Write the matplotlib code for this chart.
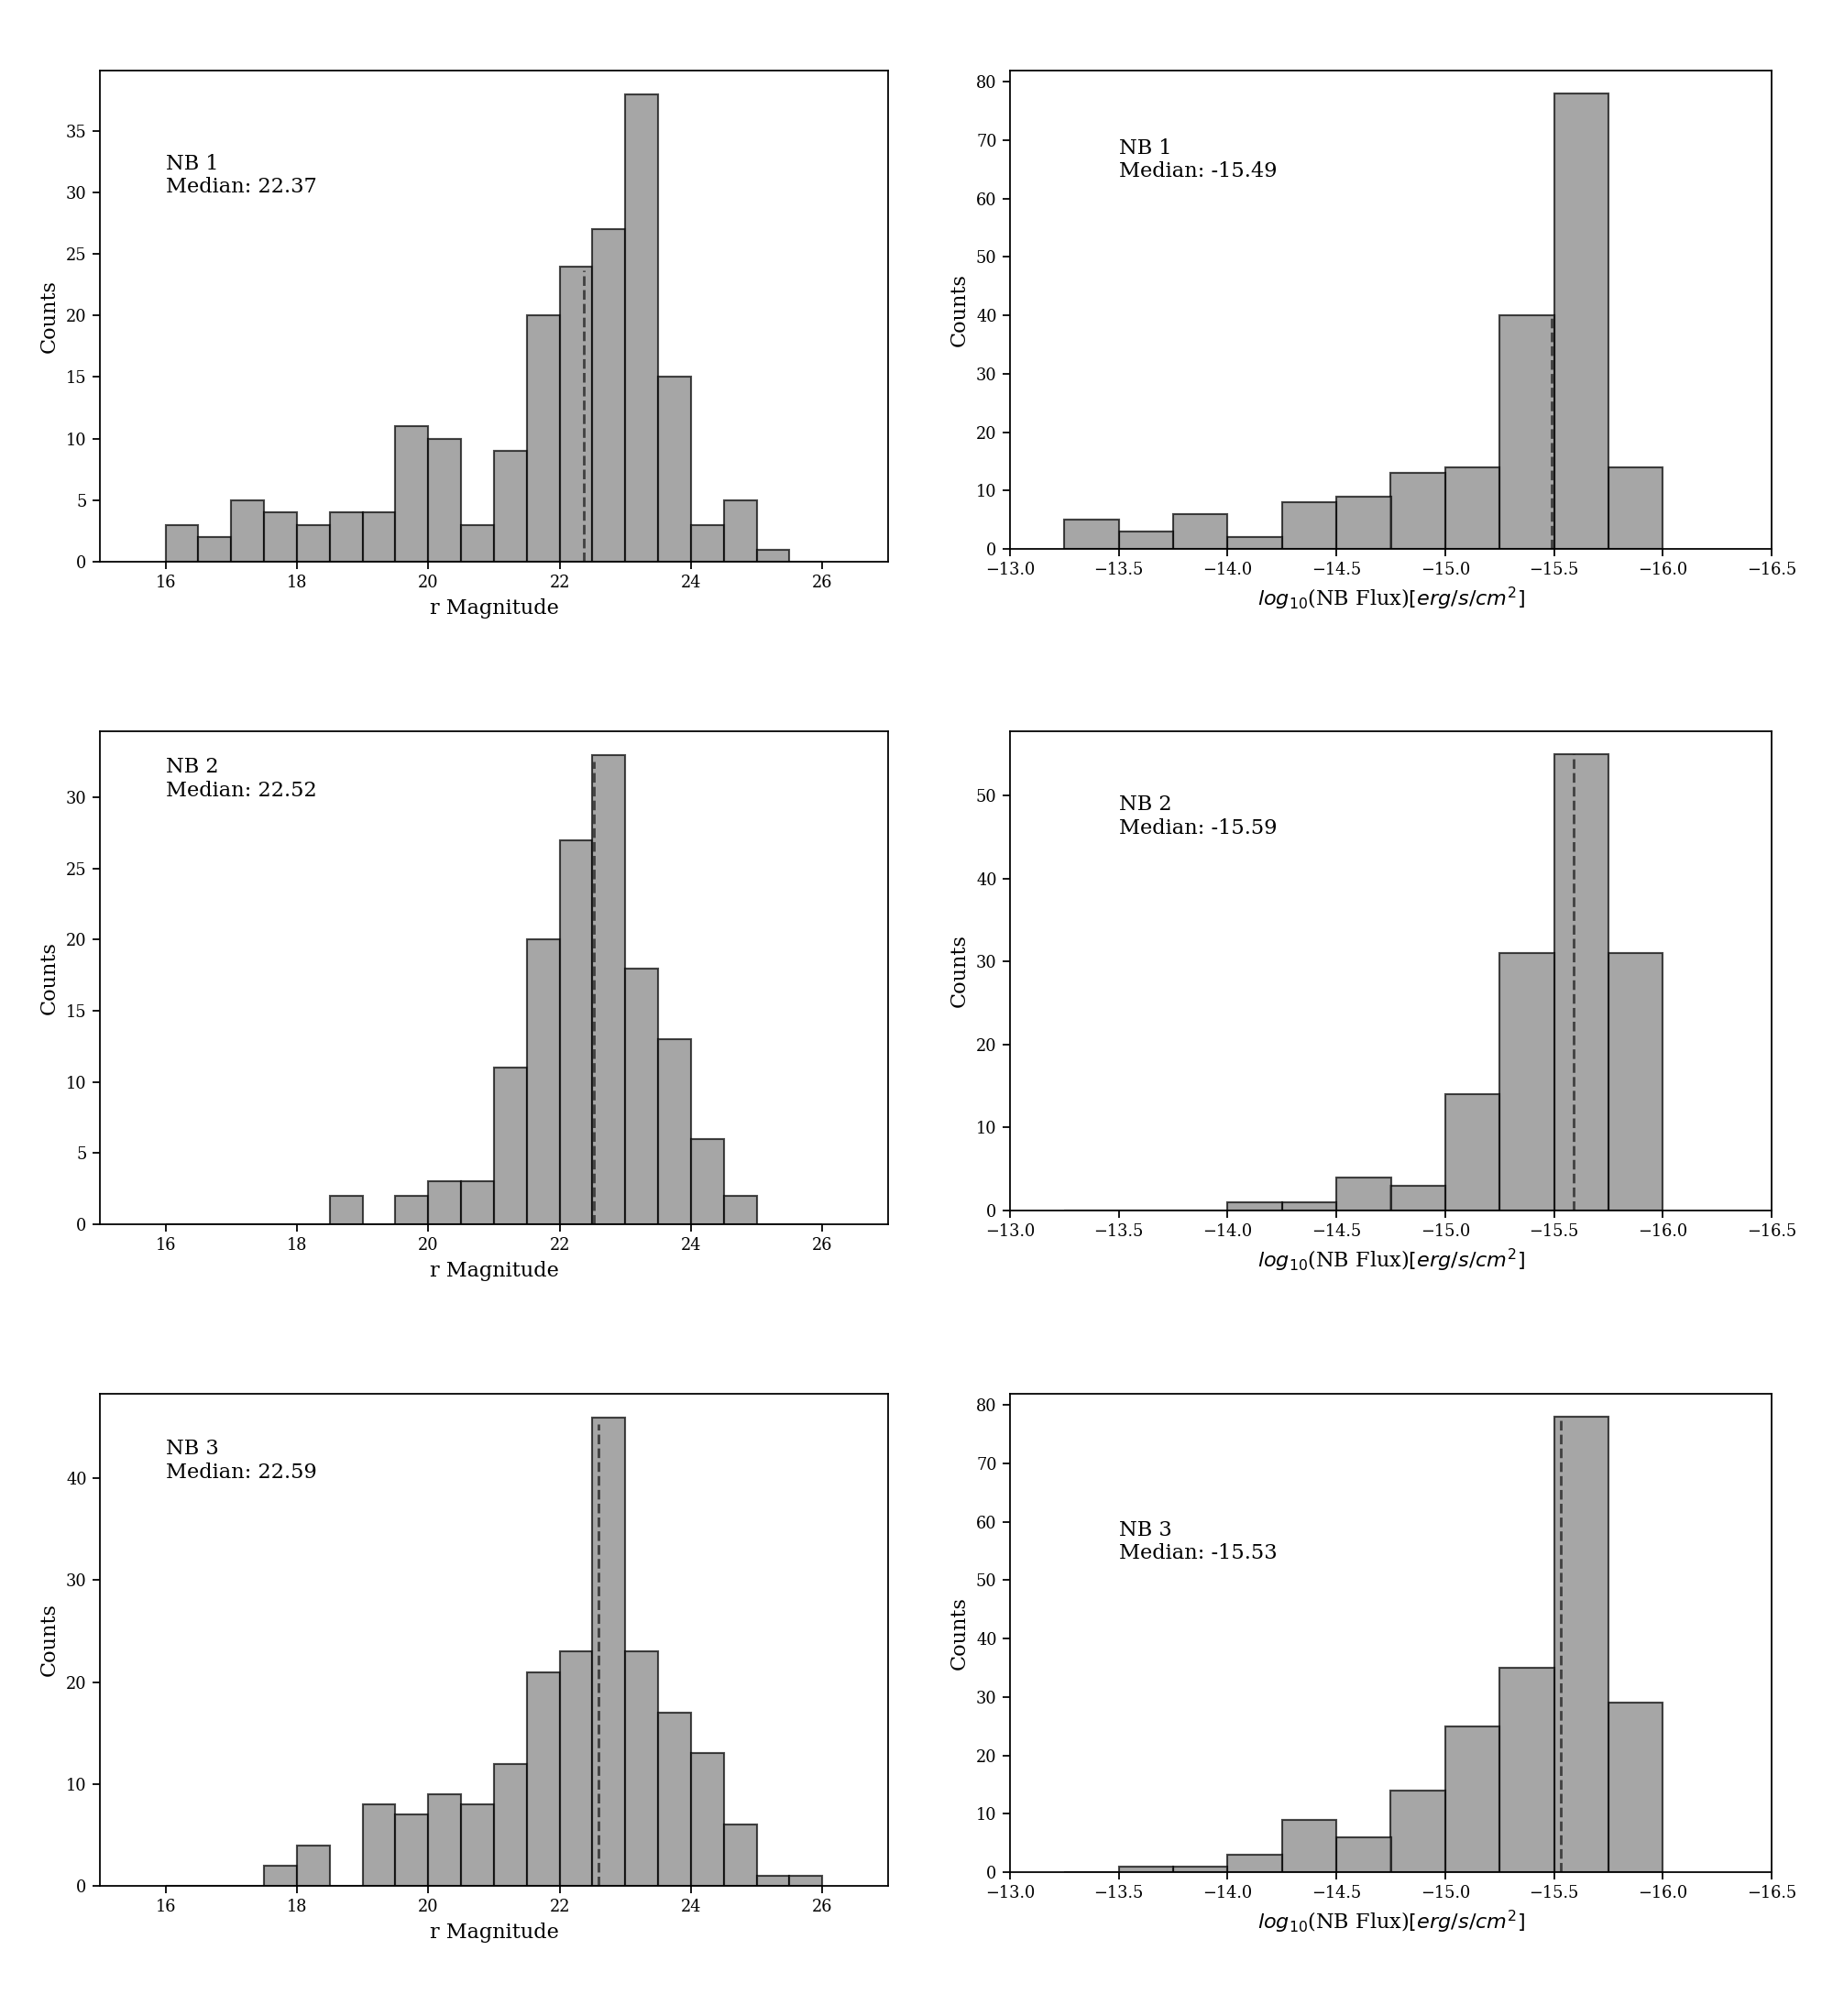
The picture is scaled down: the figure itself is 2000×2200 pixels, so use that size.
import matplotlib
matplotlib.use("Agg")
import matplotlib.pyplot as plt
import numpy as np

plt.rcParams['font.family'] = 'serif'
plt.rcParams['font.serif'] = ['DejaVu Serif']
plt.rcParams['axes.linewidth'] = 1.0
plt.rcParams['xtick.major.size'] = 4.6
plt.rcParams['ytick.major.size'] = 4.6
plt.rcParams['xtick.major.width'] = 1.0
plt.rcParams['ytick.major.width'] = 1.0

# r magnitude histograms (bins 16..26, width 0.5)
mag_edges = np.arange(16.0, 26.01, 0.5)
mag_counts_nb1 = [3, 2, 5, 4, 3, 4, 4, 11, 10, 3, 9, 20, 24, 27, 38, 15, 3, 5, 1, 0]
mag_counts_nb2 = [0, 0, 0, 0, 0, 2, 0, 2, 3, 3, 11, 20, 27, 33, 18, 13, 6, 2, 0, 0]
mag_counts_nb3 = [0, 0, 0, 2, 4, 0, 8, 7, 9, 8, 12, 21, 23, 46, 23, 17, 13, 6, 1, 1]
mag_medians = [22.37, 22.52, 22.59]

# log10 NB flux histograms (bins -13.25 .. -16.0, width 0.25)
flux_edges = np.arange(-13.25, -16.01, -0.25)
flux_counts_nb1 = [5, 3, 6, 2, 8, 9, 13, 14, 40, 78, 14]
flux_counts_nb2 = [0, 0, 0, 1, 1, 4, 3, 14, 31, 55, 31]
flux_counts_nb3 = [0, 1, 1, 3, 9, 6, 14, 25, 35, 78, 29]
flux_medians = [-15.49, -15.59, -15.53]

labels = ["NB 1", "NB 2", "NB 3"]
mag_text_y = [30.0, 30.1, 40.05]
flux_text_y = [63.7, 45.4, 53.6]

mag_counts = [mag_counts_nb1, mag_counts_nb2, mag_counts_nb3]
flux_counts = [flux_counts_nb1, flux_counts_nb2, flux_counts_nb3]

W, H = 2000, 2200
fig = plt.figure(figsize=(W / 128, H / 128), dpi=128)

left_rows = [(77, 613), (798, 1336), (1521, 2058)]
right_rows = [(77, 599), (798, 1321), (1521, 2043)]


def px_axes(x0, x1, y0, y1):
    return fig.add_axes([x0 / W, 1 - y1 / H, (x1 - x0) / W, (y1 - y0) / H])


def median_height(edges, counts, med):
    lo = np.minimum(edges[:-1], edges[1:])
    hi = np.maximum(edges[:-1], edges[1:])
    for a, b, c in zip(lo, hi, counts):
        if a <= med < b:
            return c
    return 0


for i in range(3):
    # magnitude panel
    ax = px_axes(109, 969, *left_rows[i])
    centers = (mag_edges[:-1] + mag_edges[1:]) / 2
    ax.hist(centers, bins=mag_edges, weights=mag_counts[i],
            color='gray', alpha=0.7, edgecolor='black', linewidth=1.2)
    h = median_height(mag_edges, mag_counts[i], mag_medians[i])
    ax.vlines(mag_medians[i], 0, h * 0.985, colors='k', alpha=0.6,
              linestyles='--', linewidth=1.6)
    ax.set_xlim(15, 27)
    ax.set_xlabel("r Magnitude", fontsize=12.6)
    ax.set_ylabel("Counts", fontsize=12.6)
    ax.text(16, mag_text_y[i], f"{labels[i]}\nMedian: {mag_medians[i]:.2f}",
            fontsize=12.7)

    # flux panel
    ax = px_axes(1102, 1933, *right_rows[i])
    fe = flux_edges[::-1]
    fc = flux_counts[i][::-1]
    centers = (fe[:-1] + fe[1:]) / 2
    ax.hist(centers, bins=fe, weights=fc,
            color='gray', alpha=0.7, edgecolor='black', linewidth=1.2)
    h = median_height(flux_edges, flux_counts[i], flux_medians[i])
    ax.vlines(flux_medians[i], 0, h, colors='k', alpha=0.6,
              linestyles='--', linewidth=1.6)
    ax.set_xlim(-13, -16.5)
    ax.set_xlabel(r"$log_{10}$(NB Flux)$[erg/s/cm^2]$", fontsize=12.6)
    ax.set_ylabel("Counts", fontsize=12.6)
    ax.text(-13.5, flux_text_y[i], f"{labels[i]}\nMedian: {flux_medians[i]:.2f}",
            fontsize=12.7)

fig.savefig("out.png", dpi=128)
